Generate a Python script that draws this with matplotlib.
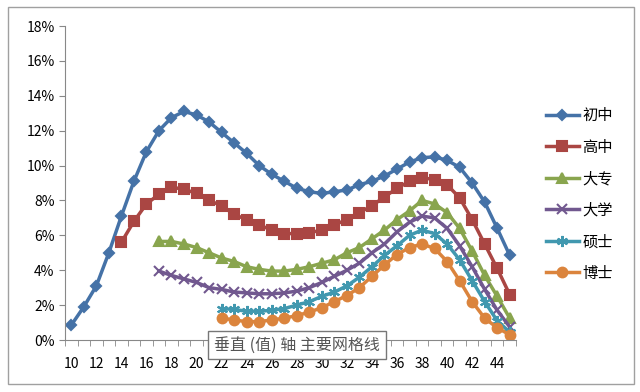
import matplotlib.pyplot as plt
from matplotlib.patches import Rectangle
from matplotlib.ticker import FuncFormatter, MultipleLocator

plt.rcParams['font.family'] = ['Noto Sans CJK SC', 'DejaVu Sans']

ages = list(range(10, 46))

# 各学历在各年龄的占比 (%)
chuzhong = [0.85, 1.9, 3.1, 5.0, 7.1, 9.1, 10.8, 12.0, 12.75, 13.1, 12.9, 12.5,
            11.9, 11.3, 10.7, 10.0, 9.5, 9.1, 8.7, 8.5, 8.4, 8.5, 8.6, 8.9, 9.1,
            9.4, 9.8, 10.2, 10.45, 10.5, 10.3, 9.9, 9.0, 7.9, 6.4, 4.85]
gaozhong = [5.6, 6.8, 7.8, 8.35, 8.75, 8.65, 8.4, 8.0, 7.7, 7.2, 6.9, 6.6, 6.3,
            6.1, 6.1, 6.15, 6.3, 6.6, 6.9, 7.3, 7.7, 8.2, 8.7, 9.1, 9.3, 9.2,
            8.9, 8.15, 6.9, 5.5, 4.1, 2.6]
dazhuan = [5.65, 5.65, 5.5, 5.3, 5.0, 4.7, 4.5, 4.2, 4.05, 3.95, 3.95, 4.05,
           4.2, 4.4, 4.6, 5.0, 5.3, 5.8, 6.3, 6.9, 7.4, 8.0, 7.8, 7.3, 6.4,
           5.1, 3.7, 2.5, 1.25]
daxue = [3.95, 3.7, 3.5, 3.3, 3.0, 2.9, 2.75, 2.7, 2.65, 2.65, 2.7, 2.8, 3.0,
         3.3, 3.65, 4.0, 4.4, 5.0, 5.5, 6.2, 6.75, 7.1, 7.0, 6.4, 5.4, 4.2,
         2.9, 1.7, 0.75]
shuoshi = [1.8, 1.75, 1.65, 1.65, 1.7, 1.8, 2.0, 2.2, 2.5, 2.75, 3.1, 3.6,
           4.2, 4.85, 5.4, 6.0, 6.3, 6.1, 5.5, 4.6, 3.4, 2.2, 1.1, 0.45]
boshi = [1.25, 1.15, 1.05, 1.05, 1.15, 1.25, 1.4, 1.6, 1.85, 2.2, 2.55, 3.0,
         3.65, 4.3, 4.9, 5.3, 5.5, 5.25, 4.5, 3.4, 2.2, 1.25, 0.7, 0.3]

names = ['初中', '高中', '大专', '大学', '硕士', '博士']
series = [chuzhong, gaozhong, dazhuan, daxue, shuoshi, boshi]
colors = ['#4572A7', '#AA4643', '#89A54E', '#71588F', '#4198AF', '#DB843D']
markers = ['D', 's', '^', 'x', (6, 2, 0), 'o']
msizes = [5, 7, 7, 7, 8, 7]

fig = plt.figure(figsize=(6.4, 3.92), dpi=100)
fig.patches.append(Rectangle((8 / 640, 1 - 384 / 392), 626 / 640, 377 / 392,
                             transform=fig.transFigure, fill=False,
                             ec='#A0A0A0', lw=1))
ax = fig.add_axes([65 / 640, 1 - 340 / 392, 451 / 640, 314 / 392])

for name, vals, c, m, ms in zip(names, series, colors, markers, msizes):
    xs = ages[len(ages) - len(vals):]
    ax.plot(xs, vals, color=c, lw=2.5, marker=m, ms=ms, mew=1.5,
            label=name)

ax.set_xlim(9.5, 45.5)
ax.set_ylim(0, 18)
ax.yaxis.set_major_locator(MultipleLocator(2))
ax.yaxis.set_major_formatter(FuncFormatter(lambda v, p: f'{v:.0f}%'))
ax.set_xticks(range(10, 46, 2))
ax.set_xticks([a - 0.5 for a in ages] + [45.5], minor=True)
ax.tick_params(axis='x', which='major', length=0, labelsize=10, pad=12)
ax.tick_params(axis='x', which='minor', length=4, color='#888888')
ax.tick_params(axis='y', length=4, color='#888888', labelsize=10)
for s in ['top', 'right']:
    ax.spines[s].set_visible(False)
for s in ['left', 'bottom']:
    ax.spines[s].set_color('#888888')

ax.legend(loc='upper left', bbox_to_anchor=(1.035, 0.785), frameon=False,
          fontsize=11, handlelength=2.2, labelspacing=0.95, handletextpad=0.2)

fig.text(297 / 640, 1 - 345 / 392, '垂直 (值) 轴 主要网格线', ha='center',
         va='center', fontsize=11.5, color='#555555',
         bbox=dict(boxstyle='square,pad=0.35', fc='white', ec='#777777', lw=1))

fig.savefig('out.png', dpi=100)
